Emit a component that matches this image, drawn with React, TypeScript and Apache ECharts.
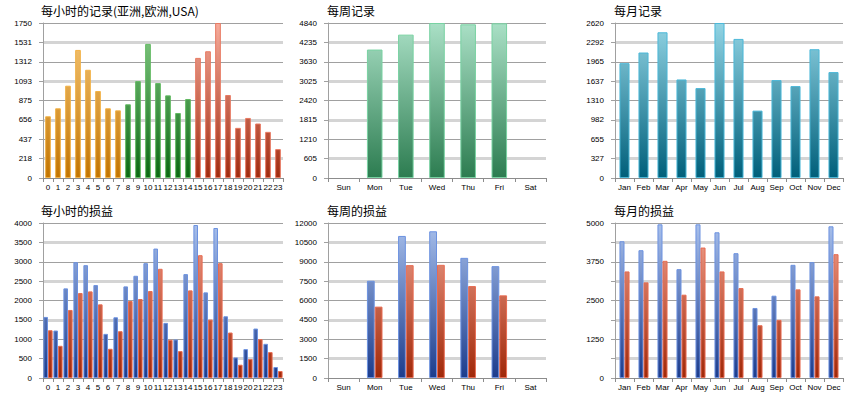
import React, { useEffect, useRef } from "react";
import * as echarts from "echarts";

const hours = Array.from({ length: 24 }, (_, i) => String(i));
const hourRegion = [0, 0, 0, 0, 0, 0, 0, 0, 1, 1, 1, 1, 1, 1, 1, 2, 2, 2, 2, 2, 2, 2, 2, 2];
const weekdays = ["Sun", "Mon", "Tue", "Wed", "Thu", "Fri", "Sat"];
const months = ["Jan", "Feb", "Mar", "Apr", "May", "Jun", "Jul", "Aug", "Sep", "Oct", "Nov", "Dec"];

const hourlyRecords = [697, 787, 1042, 1446, 1222, 982, 787, 764, 832, 1094, 1514, 1072, 933, 734, 892, 1356, 1431, 1750, 937, 566, 678, 615, 521, 326];
const weeklyRecords = [0, 4011, 4477, 4840, 4799, 4830, 0];
const monthlyRecords = [1941, 2121, 2463, 1666, 1520, 2620, 2351, 1139, 1655, 1554, 2177, 1790];

const hourlyBlue = [1576, 1225, 2313, 2989, 2912, 2398, 1139, 1567, 2364, 2638, 2963, 3340, 1422, 994, 2681, 3948, 2210, 3871, 1593, 531, 745, 1276, 882, 283];
const hourlyRed = [1233, 831, 1756, 2193, 2235, 1901, 754, 1208, 1987, 2038, 2244, 2818, 985, 694, 2261, 3169, 1507, 2963, 1173, 343, 488, 1002, 668, 180];
const weeklyBlue = [0, 7529, 10998, 11358, 9302, 8660, 0];
const weeklyRed = [0, 5525, 8737, 8762, 7118, 6398, 0];
const monthlyBlue = [4411, 4122, 4957, 3512, 4957, 4700, 4026, 2259, 2655, 3651, 3737, 4893];
const monthlyRed = [3437, 3084, 3780, 2687, 4208, 3437, 2902, 1702, 1874, 2859, 2634, 3994];

const titles = ["每小时的记录(亚洲,欧洲,USA)", "每周记录", "每月记录", "每小时的损益", "每周的损益", "每月的损益"];

const hourRecLabels = ["0", "218", "437", "656", "875", "1093", "1312", "1531", "1750"];
const weekRecLabels = ["0", "605", "1210", "1815", "2420", "3025", "3630", "4235", "4840"];
const monthRecLabels = ["0", "327", "655", "982", "1310", "1637", "1965", "2292", "2620"];
const hourPLLabels = ["0", "500", "1000", "1500", "2000", "2500", "3000", "3500", "4000"];
const weekPLLabels = ["0", "1500", "3000", "4500", "6000", "7500", "9000", "10500", "12000"];
const monthPLLabels = ["0", "", "1250", "", "2500", "", "3750", "", "5000"];

const LABEL_FONT = "'Liberation Sans', Arial, sans-serif";
const TITLE_FONT = "'Noto Sans CJK SC', 'Noto Sans', sans-serif";

function grad(top: string, bottom: string, y0: number, y1: number) {
  return new echarts.graphic.LinearGradient(0, y0, 0, y1, [
    { offset: 0, color: top },
    { offset: 1, color: bottom },
  ], true);
}

// zero-valued bars are drawn without a border so they leave no mark
function items(values: number[]) {
  return values.map((v) => (v === 0 ? { value: v, itemStyle: { borderWidth: 0, opacity: 0 } } : v));
}

export default function App() {
  const ref = useRef<HTMLDivElement>(null);
  useEffect(() => {
    if (!ref.current) return;
    const chart = echarts.init(ref.current, null, { renderer: "svg" });

    const lefts = [43, 328, 615];
    const widths = [240, 218, 228];
    const tops = [23, 223];
    const H = 155;
    const titleX = [41, 327, 614];
    const titleY = [4, 204];

    const grids: any[] = [];
    const xAxes: any[] = [];
    const yAxes: any[] = [];
    const titleOpts: any[] = [];
    const panels = [
      { cats: hours, labels: hourRecLabels, max: 1750 },
      { cats: weekdays, labels: weekRecLabels, max: 4840 },
      { cats: months, labels: monthRecLabels, max: 2620 },
      { cats: hours, labels: hourPLLabels, max: 4000 },
      { cats: weekdays, labels: weekPLLabels, max: 12000 },
      { cats: months, labels: monthPLLabels, max: 5000 },
    ];

    panels.forEach((p, i) => {
      const row = Math.floor(i / 3);
      const col = i % 3;
      grids.push({ left: lefts[col], top: tops[row], width: widths[col], height: H, containLabel: false });
      titleOpts.push({
        text: titles[i],
        left: titleX[col],
        top: titleY[row],
        padding: 0,
        textStyle: { fontFamily: TITLE_FONT, fontSize: 12, fontWeight: "normal", color: "#000" },
      });
      xAxes.push({
        type: "category",
        gridIndex: i,
        data: p.cats,
        axisLine: { lineStyle: { color: "#8c8c8c", width: 1 } },
        axisTick: { show: true, length: 4, lineStyle: { color: "#8c8c8c" } },
        axisLabel: { interval: 0, fontSize: 8, color: "#000", fontFamily: LABEL_FONT, margin: 5 },
        splitLine: { show: false },
      });
      const interval = p.max / 8;
      const labels = p.labels;
      yAxes.push({
        type: "value",
        gridIndex: i,
        min: 0,
        max: p.max,
        interval,
        axisLine: { show: true, lineStyle: { color: "#a0a0a0" } },
        axisTick: { show: true, length: 4, lineStyle: { color: "#a0a0a0" } },
        axisLabel: {
          fontSize: 8,
          color: "#000",
          fontFamily: LABEL_FONT,
          margin: 11,
          formatter: (v: number) => labels[Math.round(v / interval)] ?? "",
        },
        splitLine: { show: true, lineStyle: { color: ["#a0a0a0", "rgba(0,0,0,0)"], width: 1 } },
      });
      yAxes.push({
        type: "value",
        gridIndex: i,
        position: "right",
        min: 0,
        max: p.max,
        interval,
        axisLine: { show: false },
        axisTick: { show: false },
        axisLabel: { show: false },
        splitLine: { show: true, lineStyle: { color: ["rgba(0,0,0,0)", "#d4d4d4"], width: 3 } },
      });
    });

    const yTop = (i: number) => tops[Math.floor(i / 3)];

    const regionStyles = [
      { c: grad("#f8ca7c", "#c27400", yTop(0), yTop(0) + H), b: "#f2b246" },
      { c: grad("#88cc88", "#0a6812", yTop(0), yTop(0) + H), b: "#62ba62" },
      { c: grad("#f6ac9c", "#a02a0e", yTop(0), yTop(0) + H), b: "#e87a62" },
    ];

    const blueStyle = (i: number) => ({
      color: grad("#a8c0ec", "#1c3c8c", yTop(i), yTop(i) + H),
      borderColor: "#6c92e0",
      borderWidth: 1,
    });
    const redStyle = (i: number) => ({
      color: grad("#f2a492", "#a02808", yTop(i), yTop(i) + H),
      borderColor: "#e86c52",
      borderWidth: 1,
    });

    const series: any[] = [
      {
        type: "bar",
        xAxisIndex: 0,
        yAxisIndex: 0,
        data: hourlyRecords.map((v, k) => ({
          value: v,
          itemStyle: { color: regionStyles[hourRegion[k]].c, borderColor: regionStyles[hourRegion[k]].b, borderWidth: 1 },
        })),
        barCategoryGap: "43%",
      },
      {
        type: "bar",
        xAxisIndex: 1,
        yAxisIndex: 2,
        data: items(weeklyRecords),
        barCategoryGap: "50%",
        itemStyle: { color: grad("#aae0c6", "#2c7c50", yTop(1), yTop(1) + H), borderColor: "#78d2a2", borderWidth: 1 },
      },
      {
        type: "bar",
        xAxisIndex: 2,
        yAxisIndex: 4,
        data: monthlyRecords,
        barCategoryGap: "47%",
        itemStyle: { color: grad("#92d4e4", "#005f7a", yTop(2), yTop(2) + H), borderColor: "#4cb8d8", borderWidth: 1 },
      },
      { type: "bar", xAxisIndex: 3, yAxisIndex: 6, data: hourlyBlue, barGap: "0%", barCategoryGap: "8%", itemStyle: blueStyle(3) },
      { type: "bar", xAxisIndex: 3, yAxisIndex: 6, data: hourlyRed, barGap: "0%", barCategoryGap: "8%", itemStyle: redStyle(3) },
      { type: "bar", xAxisIndex: 4, yAxisIndex: 8, data: items(weeklyBlue), barGap: "0%", barCategoryGap: "50%", itemStyle: blueStyle(4) },
      { type: "bar", xAxisIndex: 4, yAxisIndex: 8, data: items(weeklyRed), barGap: "0%", barCategoryGap: "50%", itemStyle: redStyle(4) },
      { type: "bar", xAxisIndex: 5, yAxisIndex: 10, data: monthlyBlue, barGap: "0%", barCategoryGap: "47%", itemStyle: blueStyle(5) },
      { type: "bar", xAxisIndex: 5, yAxisIndex: 10, data: monthlyRed, barGap: "0%", barCategoryGap: "47%", itemStyle: redStyle(5) },
    ];

    chart.setOption({
      animation: false,
      backgroundColor: "#fff",
      title: titleOpts,
      grid: grids,
      xAxis: xAxes,
      yAxis: yAxes,
      series,
    });
    return () => chart.dispose();
  }, []);

  return <div ref={ref} style={{ position: "fixed", left: 0, top: 0, width: 860, height: 400 }} />;
}
